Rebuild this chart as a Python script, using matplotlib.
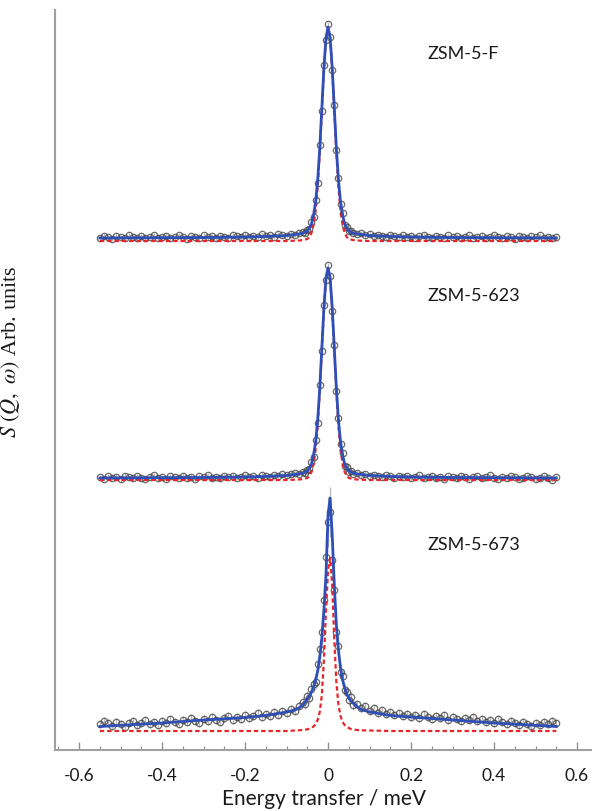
import matplotlib
matplotlib.use("Agg")
import matplotlib.pyplot as plt
from matplotlib.ticker import MultipleLocator

plt.rcParams['mathtext.fontset'] = 'stix'

# energy bins of the measured points (meV)
e_data = [-0.55, -0.54, -0.53, -0.52, -0.51, -0.50, -0.49, -0.48, -0.47, -0.46,
          -0.45, -0.44, -0.43, -0.42, -0.41, -0.40, -0.39, -0.38, -0.37, -0.36,
          -0.35, -0.34, -0.33, -0.32, -0.31, -0.30, -0.29, -0.28, -0.27, -0.26,
          -0.25, -0.24, -0.23, -0.22, -0.21, -0.20, -0.19, -0.18, -0.17, -0.16,
          -0.15, -0.14, -0.13, -0.12, -0.11, -0.10, -0.09, -0.08, -0.07,
          -0.06, -0.055, -0.05, -0.045, -0.04, -0.035, -0.03, -0.025, -0.02, -0.015,
          -0.01, -0.005, 0.0, 0.005, 0.01, 0.015, 0.02, 0.025, 0.03, 0.035,
          0.04, 0.045, 0.05, 0.055, 0.06,
          0.07, 0.08, 0.09, 0.10, 0.11, 0.12, 0.13, 0.14, 0.15, 0.16,
          0.17, 0.18, 0.19, 0.20, 0.21, 0.22, 0.23, 0.24, 0.25, 0.26,
          0.27, 0.28, 0.29, 0.30, 0.31, 0.32, 0.33, 0.34, 0.35, 0.36,
          0.37, 0.38, 0.39, 0.40, 0.41, 0.42, 0.43, 0.44, 0.45, 0.46,
          0.47, 0.48, 0.49, 0.50, 0.51, 0.52, 0.53, 0.54, 0.55]

# measured S(Q,w), stacked with offsets (arb. units)
s_f = [512, 514, 513, 511.5, 514.5, 513, 512, 515, 513.5, 512,
       514, 512.5, 513.5, 515, 512, 513, 514.5, 512.5, 513, 515,
       513, 511.5, 514, 513.5, 512.5, 515, 513, 514, 512, 514.5,
       513.5, 512.5, 515, 514, 513, 515.5, 513.5, 514.5, 513, 516,
       514, 515, 513.5, 516, 515, 514.5, 516.5, 515.5, 517.5,
       518.5, 517, 520, 521, 528, 533, 550, 567, 605, 639,
       685, 710, 726, 713, 680, 645, 600, 572, 546, 537,
       525, 523.5, 519, 519.5, 517,
       516.5, 517, 515, 516, 514, 515.5, 514.5, 513, 515.5, 514,
       513, 515, 513.5, 514.5, 512.5, 514, 515, 513, 512, 514.5,
       513.5, 512.5, 515, 513, 514, 512, 513.5, 515, 512.5, 513.5,
       514.5, 512, 513, 515, 513.5, 512, 514, 513, 511.5, 514.5,
       513, 512, 514, 513, 515, 512.5, 513.5, 512, 513]

s_623 = [273, 271.5, 274, 272.5, 273.5, 271, 274.5, 273, 272, 274,
         272.5, 271.5, 273.5, 275, 272, 273, 271.5, 274, 273, 272.5,
         274.5, 272, 273.5, 271.5, 274, 273, 275, 272.5, 273.5, 272,
         274, 273, 274.5, 272.5, 273.5, 275, 273, 274, 272.5, 275.5,
         274, 273.5, 275, 274.5, 276, 275, 276.5, 277, 276.5,
         278, 277, 280.5, 281, 288, 293, 310, 327, 365, 399,
         445, 470, 485, 474, 439, 405, 359, 332, 306, 297,
         284, 283.5, 278, 279.5, 276.5,
         277.5, 275, 276.5, 274, 275.5, 274.5, 273, 275, 274, 272.5,
         274.5, 273, 274, 272, 273.5, 275, 272.5, 273, 274.5, 272,
         273.5, 271.5, 274, 273, 272, 274.5, 273, 271.5, 273.5, 274,
         272, 273, 275, 272.5, 271.5, 273.5, 272, 274, 273, 271.5,
         272.5, 274, 273, 271, 272.5, 274, 272, 270.5, 273]

s_673 = [26, 29, 27, 24, 28, 26, 23.5, 27.5, 29, 25,
         27, 30, 26.5, 28, 25.5, 29.5, 27, 31, 28, 26,
         30, 28.5, 32, 29, 27.5, 31.5, 29, 33, 30, 28.5,
         32, 34, 30.5, 33, 31, 35.5, 32, 34, 37, 33.5,
         36, 34, 38, 35.5, 39, 37, 41, 39.5, 44,
         48, 46, 54, 52, 61, 66, 68, 86, 101, 118,
         150, 193, 228, 238, 190, 160, 118, 104, 78, 74,
         60, 58, 50, 53, 45,
         46, 42, 44, 39, 42, 37, 40, 36, 38.5, 35,
         37.5, 34, 36.5, 33, 35.5, 32, 36, 33.5, 31, 34.5,
         32, 35, 30.5, 33, 31, 29, 32.5, 30, 33, 29,
         31.5, 28, 30.5, 27.5, 31, 28.5, 26, 29.5, 27, 25,
         28.5, 26, 24.5, 27.5, 25, 28, 26.5, 29, 27]

err_f = 2.5
err_623 = 2.5
err_673 = [4] * 49 + [5, 5, 5, 5, 6, 6, 7, 8, 10, 12, 15, 20, 25,
                      25, 20, 15, 12, 10, 8, 7, 6, 6, 5, 5, 5] + [4] * 49

# fitted curves (total fit and elastic component)
e_fit = [-0.55, -0.4, -0.3, -0.2, -0.15, -0.1, -0.08, -0.07, -0.06, -0.055,
         -0.05, -0.045, -0.04, -0.035, -0.03, -0.025, -0.02, -0.015, -0.01, -0.005,
         0.0, 0.005, 0.01, 0.015, 0.02, 0.025, 0.03, 0.035, 0.04, 0.045,
         0.05, 0.055, 0.06, 0.07, 0.08, 0.1, 0.15, 0.2, 0.3, 0.4, 0.55]

fit_f = [512, 512.3, 512.5, 513, 513.5, 514.5, 515.5, 516, 517, 518,
         519, 522, 526, 535, 548, 570, 602, 642, 682, 712,
         723, 712, 682, 642, 602, 570, 548, 535, 526, 522,
         519, 518, 517, 516, 515.5, 514.5, 513.5, 513, 512.5, 512.3, 512]
ela_f = [509, 509, 509, 509, 509, 509, 509.3, 509.5, 510, 510.5,
         511, 513, 517, 525, 539, 563, 597, 639, 681, 712,
         723, 712, 681, 639, 597, 563, 539, 525, 517, 513,
         511, 510.5, 510, 509.5, 509.3, 509, 509, 509, 509, 509, 509]

fit_623 = [272, 272.3, 272.5, 273, 273.5, 274.5, 275.5, 276, 277, 278,
           279, 282, 286, 295, 308, 330, 362, 402, 442, 472,
           482, 472, 442, 402, 362, 330, 308, 295, 286, 282,
           279, 278, 277, 276, 275.5, 274.5, 273.5, 273, 272.5, 272.3, 272]
ela_623 = [270, 270, 270, 270, 270, 270, 270.3, 270.5, 271, 271.5,
           272, 274, 278, 286, 300, 324, 358, 400, 441, 472,
           482, 472, 441, 400, 358, 324, 300, 286, 278, 274,
           272, 271.5, 271, 270.5, 270.3, 270, 270, 270, 270, 270, 270]

fit_673 = [23.5, 27, 30, 32.5, 34.5, 38, 40, 42, 45.5, 48,
           51, 54, 58, 63, 70, 79, 93, 112, 140, 175,
           235, 252, 215, 165, 125, 100, 82, 70, 62, 56,
           52, 49, 47, 43, 40.5, 38, 34.5, 33, 30, 27, 23.5]
ela_673 = [19, 19, 19, 19, 19, 19, 19.5, 19.7, 20, 20.3,
           20.7, 21.3, 22, 23.5, 26, 30, 38, 55, 90, 140,
           180, 192, 165, 110, 68, 45, 34, 28, 25, 23,
           22, 21, 20.5, 20, 19.7, 19.5, 19, 19, 19, 19, 19]

labels = ["ZSM-5-F", "ZSM-5-623", "ZSM-5-673"]
label_y = [697, 455, 206]

fig = plt.figure(figsize=(5.92, 8.12), dpi=100)
ax = fig.add_axes([55 / 592, 61 / 812, 537 / 592, 740 / 812])

for s, err in [(s_f, err_f), (s_623, err_623), (s_673, err_673)]:
    ax.errorbar(e_data, s, yerr=err, fmt='o', ms=4.6, mfc='none', mec='#454545',
                mew=0.9, ecolor='#a8a8a8', elinewidth=0.9, alpha=0.8, zorder=1)

for fit, ela in [(fit_f, ela_f), (fit_623, ela_623), (fit_673, ela_673)]:
    ax.plot(e_fit, ela, color='#e8262a', lw=1.6, dashes=(2, 1.3), zorder=2)
    ax.plot(e_fit, fit, color='#2f4fb8', lw=2.0, zorder=3)

for lab, ly in zip(labels, label_y):
    ax.text(0.239, ly, lab, fontsize=13, family='Lato', va='center', ha='left',
            color='#1a1a1a')

ax.set_xlim(-0.658, 0.636)
ax.set_ylim(0, 740)
ax.xaxis.set_minor_locator(MultipleLocator(0.05))
ax.set_xticks([-0.6, -0.4, -0.2, 0, 0.2, 0.4, 0.6])
ax.set_xticklabels(['-0.6', '-0.4', '-0.2', '0', '0.2', '0.4', '0.6'],
                   family='Lato', fontsize=12.5, color='#1a1a1a')
ax.tick_params(axis='x', which='major', direction='in', length=6, width=1,
               color='#909090', pad=12)
ax.tick_params(axis='x', which='minor', direction='in', length=3, width=0.8,
               color='#909090')
ax.set_yticks([])

for side in ['top', 'right']:
    ax.spines[side].set_visible(False)
for side in ['left', 'bottom']:
    ax.spines[side].set_color('#a0a0a0')
    ax.spines[side].set_linewidth(1.5)

ax.set_xlabel('Energy transfer / meV', family='Lato', fontsize=15, color='#1a1a1a',
              labelpad=4)
ax.set_ylabel(r'$S\ (Q,\ \omega)$ Arb. units', family='Liberation Serif',
              fontsize=16, color='#1a1a1a')
ax.yaxis.set_label_coords(-0.062, 0.54)

fig.savefig('out.png', dpi=100)
